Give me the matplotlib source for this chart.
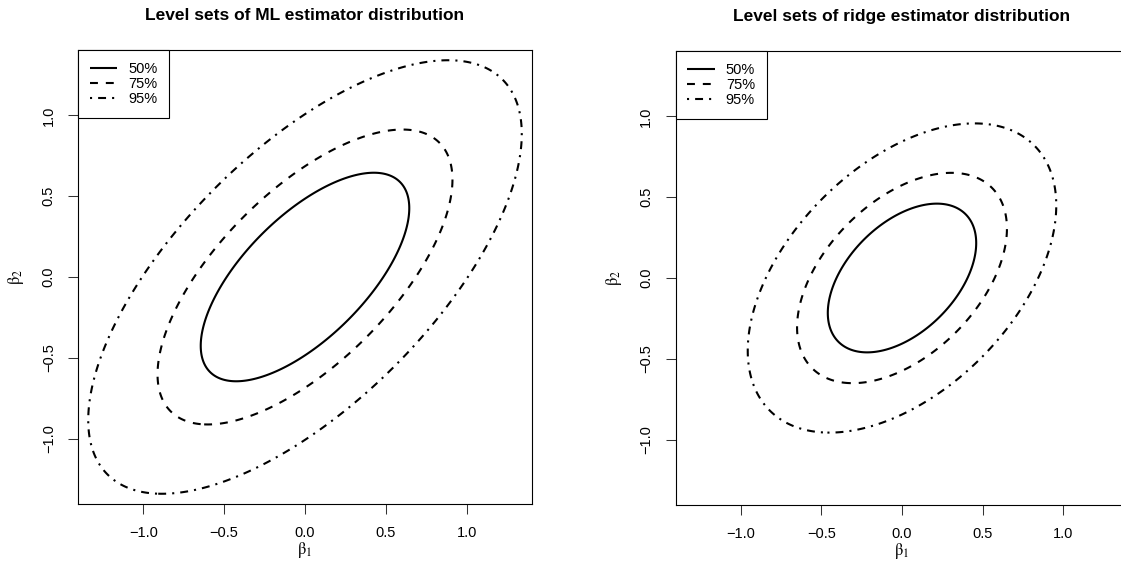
import numpy as np
import matplotlib
matplotlib.use("Agg")
import matplotlib.pyplot as plt
from matplotlib.lines import Line2D

plt.rcParams['font.family'] = ['Liberation Sans', 'DejaVu Sans']
plt.rcParams['mathtext.fontset'] = 'stix'

# coverage levels of the level sets
coverage = [0.50, 0.75, 0.95]
labels = ["50%", "75%", "95%"]

# covariance of the estimators
titles = ["Level sets of ML estimator distribution",
          "Level sets of ridge estimator distribution"]
cov_ml = [[0.300, 0.198],
          [0.198, 0.300]]
cov_ridge = [[0.1526, 0.0717],
             [0.0717, 0.1526]]
ticks = [-1.0, -0.5, 0.0, 0.5, 1.0]

lw = 1.5
styles = ['solid', (0, (3.8, 3.8)), (0, (1.0, 2.9, 3.8, 2.9))]


def fmt(t):
    return ("%.1f" % t).replace("-", "\u2212")


def level_sets(ax, cov, title):
    g = np.linspace(-1.5, 1.5, 601)
    X, Y = np.meshgrid(g, g)
    inv = np.linalg.inv(np.array(cov))
    Q = inv[0, 0] * X**2 + 2 * inv[0, 1] * X * Y + inv[1, 1] * Y**2
    # chi-square(2) quantiles
    lev = [-2 * np.log(1 - p) for p in coverage]
    for l, ls in zip(lev, styles):
        ax.contour(X, Y, Q, levels=[l], colors='k', linewidths=lw,
                   linestyles=[ls])
    lim = 1.404
    ax.set_xlim(-lim, lim)
    ax.set_ylim(-lim, lim)
    ax.set_xticks(ticks)
    ax.set_yticks(ticks)
    ax.set_xticklabels([fmt(t) for t in ticks])
    ax.set_yticklabels([fmt(t) for t in ticks], rotation=90, va='center')
    ax.tick_params(length=7, width=0.75, pad=9, labelsize=10.5, color='#333333')
    for s in ax.spines.values():
        s.set_linewidth(0.8)
    ax.set_xlabel('$\\mathrm{\u03b2_1}$', fontsize=12, labelpad=0)
    ax.set_ylabel('$\\mathrm{\u03b2_2}$', fontsize=12, labelpad=11)
    ax.set_title(title, fontsize=12.5, fontweight='bold', pad=21.5)
    handles = [Line2D([], [], color='k', lw=lw, linestyle=ls,
                      solid_capstyle='butt') for ls in styles]
    leg = ax.legend(handles, labels, loc='upper left', borderaxespad=0,
                    fancybox=False, framealpha=1, edgecolor='k',
                    fontsize=10.5, handlelength=1.9, handletextpad=0.75,
                    labelspacing=0.08, borderpad=0.8)
    leg.get_frame().set_linewidth(0.8)


fig = plt.figure(figsize=(11.21, 5.77), dpi=100)
ax1 = fig.add_axes([78 / 1121, 73 / 577, 454 / 1121, 454 / 577])
ax2 = fig.add_axes([675.5 / 1121, 72 / 577, 453 / 1121, 454 / 577])
level_sets(ax1, cov_ml, titles[0])
level_sets(ax2, cov_ridge, titles[1])

fig.savefig("out.png", dpi=100)
